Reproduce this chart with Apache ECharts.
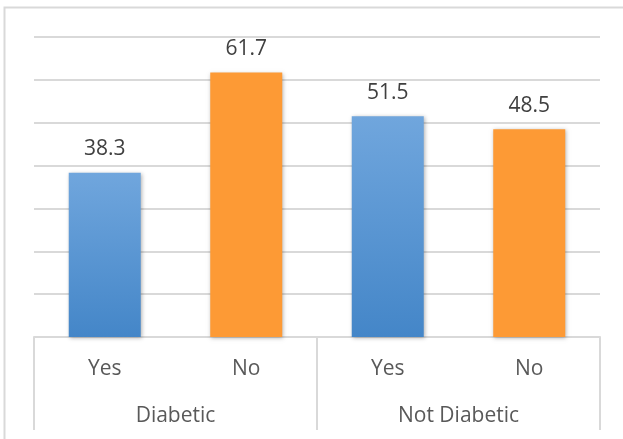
<!DOCTYPE html>
<html>
<head>
<meta charset="utf-8">
<script src="https://cdn.jsdelivr.net/npm/echarts@6/dist/echarts.min.js"></script>
<style>
  html, body { margin: 0; padding: 0; background: #fff; }
  #chart { width: 623px; height: 439px; }
</style>
</head>
<body>
<div id="chart"></div>
<script>
// answers under each group, left to right
var answers = ['Yes', 'No', 'Yes', 'No'];
var groups = ['Diabetic', 'Not Diabetic'];
var percents = [38.3, 61.7, 51.5, 48.5];
var yMin = 0, yMax = 70, yStep = 10;

var blue = new echarts.graphic.LinearGradient(0, 0, 0, 1, [
  { offset: 0, color: '#70a6dd' },
  { offset: 1, color: '#4486c8' }
]);
var orange = '#fd9a35';
var gray = '#d9d9d9';
var font = '"Open Sans", "Liberation Sans", sans-serif';

var chart = echarts.init(document.getElementById('chart'));

chart.setOption({
  animation: false,
  graphic: [{
    type: 'rect',
    shape: { x: 4.5, y: 7.5, width: 700, height: 500 },
    style: { fill: 'none', stroke: gray, lineWidth: 2 },
    silent: true
  }],
  grid: { left: 34, right: 23, top: 37, bottom: 102 },
  xAxis: [
    {
      type: 'category',
      data: answers,
      axisLine: { lineStyle: { color: gray, width: 2 } },
      axisTick: { show: false },
      axisLabel: { color: '#595959', fontSize: 21, fontFamily: font, margin: 22 }
    },
    {
      type: 'category',
      data: groups,
      position: 'bottom',
      axisLine: { show: false },
      axisTick: { show: true, length: 93, lineStyle: { color: gray, width: 2 } },
      axisLabel: { color: '#595959', fontSize: 21, fontFamily: font, margin: 69 }
    }
  ],
  yAxis: {
    type: 'value',
    min: yMin, max: yMax, interval: yStep,
    axisLine: { show: false },
    axisTick: { show: false },
    axisLabel: { show: false },
    splitLine: { lineStyle: { color: gray, width: 2 } }
  },
  series: [{
    type: 'bar',
    xAxisIndex: 0,
    barWidth: 72,
    data: percents.map(function (v, i) {
      return {
        value: v,
        itemStyle: {
          color: answers[i] === 'Yes' ? blue : orange,
          shadowBlur: 4,
          shadowOffsetX: 1,
          shadowOffsetY: 1,
          shadowColor: 'rgba(0,0,0,0.3)'
        }
      };
    }),
    label: {
      show: true,
      position: 'top',
      distance: 13,
      color: '#404040',
      fontSize: 21,
      fontFamily: font
    }
  }]
});
</script>
</body>
</html>
